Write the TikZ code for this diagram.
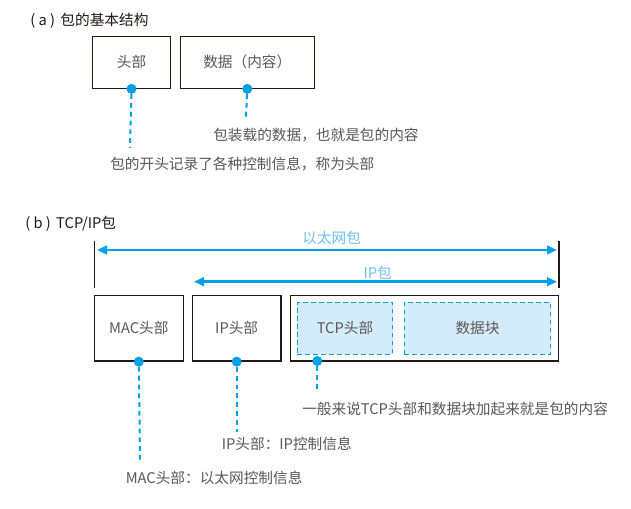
\documentclass[tikz,border=0pt]{standalone}
\usepackage{fontspec}
\setmainfont{Noto Sans CJK SC}
\usepackage{xcolor}
\usetikzlibrary{arrows.meta}
\definecolor{PKBlue}{HTML}{00A0E9}
\definecolor{PKLight}{HTML}{D4ECF9}
\definecolor{PKLabel}{HTML}{6EC3EE}
\definecolor{PKText}{HTML}{595757}
\definecolor{PKLine}{HTML}{231815}
\newcommand{\pkparen}[1]{(\hspace{2.5pt}#1\hspace{2.5pt})\hspace{4pt}}
\tikzset{
  pkbox/.style={draw=PKLine,line width=0.9pt,text=PKText,inner sep=0pt},
  pkpart/.style={draw=PKBlue,fill=PKLight,line width=0.8pt,dash pattern=on 3.5pt off 2.5pt,text=PKText,inner sep=0pt},
  pkdot/.style={circle,fill=PKBlue,inner sep=0pt,minimum size=7.5pt},
  pklead/.style={PKBlue,line width=1.5pt,dash pattern=on 3.6pt off 3pt},
  pknote/.style={anchor=west,text=PKText,inner sep=0pt},
  pktitle/.style={anchor=west,text=PKLine,inner sep=0pt},
  pkspan/.style={PKBlue,line width=1.8pt,{Triangle[length=7.5pt,width=6.5pt]}-{Triangle[length=7.5pt,width=6.5pt]}},
  pkspanlabel/.style={text=PKLabel,inner sep=0pt}
}
\begin{document}
\begin{tikzpicture}[x=0.75pt,y=-0.75pt,font=\fontsize{11pt}{13pt}\selectfont]
\path[use as bounding box] (0,0) rectangle (631,509);
\node[pktitle] (titleA) at (30,20.7) {\pkparen{a}包的基本结构};
\node[pkbox,minimum width=58.8pt,minimum height=39pt] (hdr) at (131.5,62.3) {头部};
\node[pkbox,minimum width=100.5pt,minimum height=39pt] (body) at (247.3,62.3) {数据（内容）};
\node[pkdot] (hdrDot) at (hdr.south) {};
\node[pkdot] (bodyDot) at (body.south) {};
\coordinate (hdrEnd) at (130,148);
\coordinate (bodyEnd) at (246,117);
\draw[pklead] (hdrDot) -- (hdrEnd);
\draw[pklead] (bodyDot) -- (bodyEnd);
\node[pknote] (bodyNote) at (213,135) {包装载的数据，也就是包的内容};
\node[pknote] (hdrNote) at (110,164) {包的开头记录了各种控制信息，称为头部};
\node[pktitle] (titleB) at (25,224) {\pkparen{b}TCP/IP包};
\draw[PKLine,line width=0.8pt] (94.3,241) -- (94.3,288);
\draw[PKLine,line width=0.8pt] (559,241) -- (559,288);
\coordinate (etherL) at (97,250);
\coordinate (etherR) at (557,250);
\coordinate (ipL) at (194,281.7);
\coordinate (ipR) at (557,281.7);
\draw[pkspan] (etherL) -- (etherR);
\draw[pkspan] (ipL) -- (ipR);
\node[pkspanlabel] (etherLabel) at (331.7,238.3) {以太网包};
\node[pkspanlabel] (ipLabel) at (377.7,272.7) {IP包};
\node[pkbox,minimum width=66.75pt,minimum height=49.3pt] (mac) at (138.8,328.2) {MAC头部};
\node[pkbox,minimum width=66.5pt,minimum height=49.3pt] (iphdr) at (236.7,328.2) {IP头部};
\node[pkbox,minimum width=200.7pt,minimum height=49.3pt] (payload) at (424.5,328.2) {};
\node[pkpart,minimum width=71.5pt,minimum height=38.8pt] (tcphdr) at (345,328.2) {TCP头部};
\node[pkpart,minimum width=109.8pt,minimum height=38.8pt] (chunk) at (477.5,328.2) {数据块};
\node[pkdot] (macDot) at (mac.south) {};
\node[pkdot] (iphdrDot) at (iphdr.south) {};
\node[pkdot] (payloadDot) at (317.3,361) {};
\coordinate (macEnd) at (140,462);
\coordinate (iphdrEnd) at (236.7,432);
\coordinate (payloadEnd) at (317.3,391);
\draw[pklead] (macDot) -- (macEnd);
\draw[pklead] (iphdrDot) -- (iphdrEnd);
\draw[pklead] (payloadDot) -- (payloadEnd);
\node[pknote] (payloadNote) at (302,409) {一般来说TCP头部和数据块加起来就是包的内容};
\node[pknote] (iphdrNote) at (221.6,444) {IP头部：IP控制信息};
\node[pknote] (macNote) at (125.5,478) {MAC头部：以太网控制信息};
\end{tikzpicture}
\end{document}
